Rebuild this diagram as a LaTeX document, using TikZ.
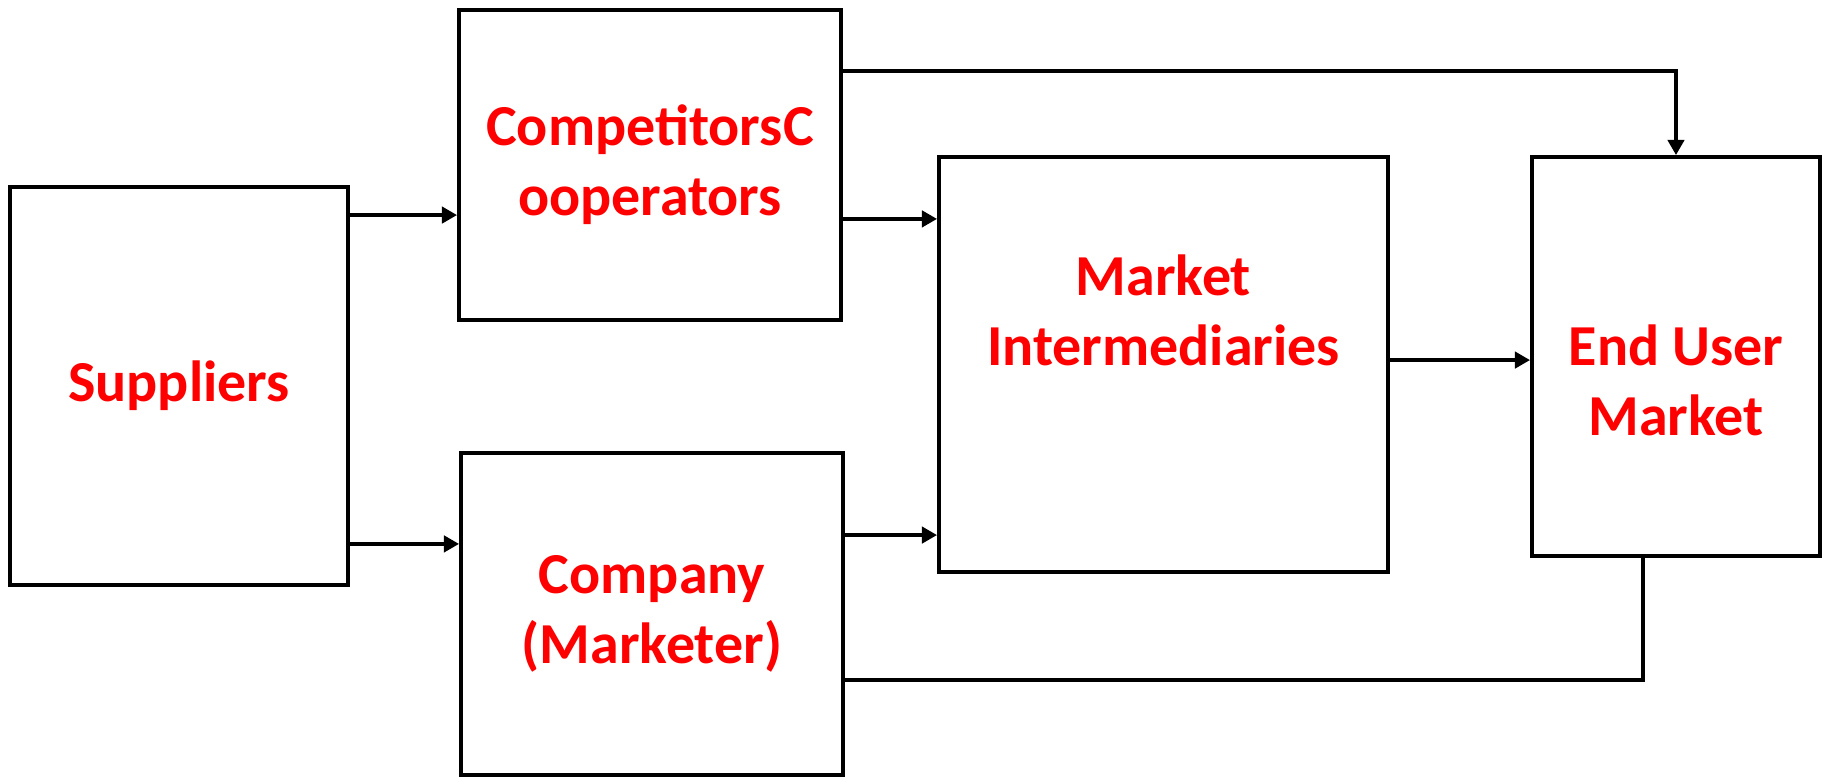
\documentclass[tikz,border=0pt]{standalone}
\usepackage{fontspec}
\setmainfont{Carlito}
\usetikzlibrary{arrows.meta, positioning, calc}

\begin{document}
\begin{tikzpicture}[
    bloque/.style={
        draw=black,
        line width=1.1pt,
        inner sep=0pt,
        text=red,
        font=\fontsize{16.5}{19.9}\selectfont\bfseries,
        align=center
    },
    rotulo/.style={
        text=red,
        font=\fontsize{16.5}{19.9}\selectfont\bfseries,
        align=center
    },
    flecha/.style={
        -{Triangle[length=4.3pt,width=4.6pt]},
        line width=1.05pt
    },
    linea/.style={
        line width=1.05pt
    }
]

\useasboundingbox (0,0) rectangle (18.23,-7.77);

% Bloques
\node (suppliers) [bloque, minimum width=3.38cm, minimum height=3.98cm]
    at (1.79,-3.86) {Suppliers};

\node (competitors) [bloque, minimum width=3.82cm, minimum height=3.10cm]
    at (6.50,-1.65) {CompetitorsC\\ooperators};

\node (company) [bloque, minimum width=3.82cm, minimum height=3.22cm]
    at (6.52,-6.14) {Company\\(Marketer)};

\node (intermediaries) [bloque, minimum width=4.49cm, minimum height=4.15cm,
    label={[rotulo, yshift=0.54cm]center:{Market\\Intermediaries}}]
    at (11.635,-3.645) {};

\node (enduser) [bloque, minimum width=2.88cm, minimum height=3.99cm,
    label={[rotulo, yshift=-0.24cm]center:{End User\\Market}}]
    at (16.76,-3.565) {};

% Flechas entre bloques
\draw[flecha] ([yshift=-0.30cm]suppliers.north east) -- ([yshift=-0.30cm]suppliers.north east -| competitors.west);
\draw[flecha] ([yshift=0.43cm]suppliers.south east) -- ([yshift=0.43cm]suppliers.south east -| company.west);
\draw[flecha] ([yshift=1.03cm]competitors.south east) -- ([yshift=1.03cm]competitors.south east -| intermediaries.west);
\draw[flecha] ([yshift=-0.84cm]company.north east) -- ([yshift=-0.84cm]company.north east -| intermediaries.west);
\draw[flecha] ([yshift=-2.05cm]intermediaries.north east) -- ([yshift=-2.05cm]intermediaries.north east -| enduser.west);

% Conexiones directas al mercado final
\draw[flecha] ([yshift=-0.63cm]competitors.north east) -| (enduser.north);
\draw[linea] ([yshift=-2.29cm]company.north east) -| ([xshift=-0.33cm]enduser.south);

\end{tikzpicture}
\end{document}
